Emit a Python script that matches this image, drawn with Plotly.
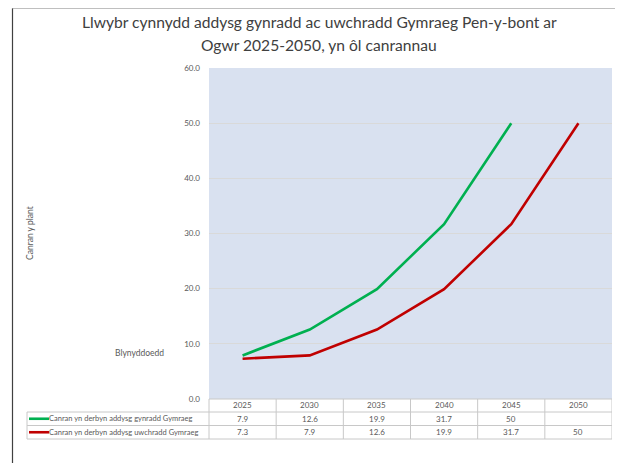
import plotly.graph_objects as go

years = ["2025", "2030", "2035", "2040", "2045", "2050"]
primary = [7.9, 12.6, 19.9, 31.7, 50, None]
secondary = [7.3, 7.9, 12.6, 19.9, 31.7, 50]
series_names = ["Canran yn derbyn addysg gynradd Gymraeg",
                "Canran yn derbyn addysg uwchradd Gymraeg"]
series_colors = ["#00b050", "#c00000"]
title_lines = ["Llwybr cynnydd addysg gynradd ac uwchradd Gymraeg Pen-y-bont ar",
               "Ogwr 2025-2050, yn ôl canrannau"]
y_title = "Canran y plant"
x_title = "Blynyddoedd"

# page body has an 8px margin; figure is sized to fill the rest of the window
OFF = 8
VW, VH = 623, 463
W, H = VW - OFF, VH - OFF
PL, PR, PT, PB = 209, 612, 68, 399  # plot box in window pixels
L, R, T, B = PL - OFF, VW - PR, PT - OFF, VH - PB
PW = PR - PL
PH = PB - PT
FONT = "Lato, Carlito, Liberation Sans, sans-serif"
TXT = "#595959"
GRID = "#d9d9d9"
TBL = "#c8c8c8"


def px(xp):
    return (xp - PL) / PW


def py(yp):
    return (PB - yp) / PH


idx = list(range(len(years)))
fig = go.Figure()
for vals, name, col in zip([primary, secondary], series_names, series_colors):
    fig.add_trace(go.Scatter(x=idx, y=vals, mode="lines", name=name,
                             line=dict(color=col, width=2.6), showlegend=False))

shapes = []
ann = []

# frame lines
shapes.append(dict(type="line", xref="paper", yref="paper", x0=px(12), x1=px(VW), y0=py(8.5), y1=py(8.5),
                   line=dict(color="#bfbfbf", width=1)))
shapes.append(dict(type="line", xref="paper", yref="paper", x0=px(12.5), x1=px(12.5), y0=py(8.5), y1=py(VH),
                   line=dict(color="#404040", width=1.2)))

# table
row_tops = [399, 412, 425.5, 439]
left_x = 27
shapes.append(dict(type="line", xref="paper", yref="paper", x0=0, x1=1, y0=py(row_tops[0]), y1=py(row_tops[0]),
                   line=dict(color=TBL, width=1)))
for yy in row_tops[1:]:
    shapes.append(dict(type="line", xref="paper", yref="paper", x0=px(left_x), x1=1, y0=py(yy), y1=py(yy),
                       line=dict(color=TBL, width=1)))
shapes.append(dict(type="line", xref="paper", yref="paper", x0=px(left_x), x1=px(left_x),
                   y0=py(row_tops[1]), y1=py(row_tops[3]), line=dict(color=TBL, width=1)))
shapes.append(dict(type="line", xref="paper", yref="paper", x0=0, x1=0,
                   y0=py(row_tops[0]), y1=py(row_tops[3]), line=dict(color=TBL, width=1)))
for i in idx:
    shapes.append(dict(type="line", xref="x", yref="paper", x0=i + 0.5, x1=i + 0.5,
                       y0=py(row_tops[0]), y1=py(row_tops[3]), line=dict(color=TBL, width=1)))

for i, yr in zip(idx, years):
    ann.append(dict(x=i, y=py((row_tops[0] + row_tops[1]) / 2), xref="x", yref="paper", text=yr,
                    xanchor="center", yanchor="middle",
                    showarrow=False, font=dict(size=8, color=TXT, family=FONT)))

for r, (vals, name, col) in enumerate(zip([primary, secondary], series_names, series_colors)):
    yc = (row_tops[r + 1] + row_tops[r + 2]) / 2
    shapes.append(dict(type="line", xref="paper", yref="paper", x0=px(29), x1=px(49), y0=py(yc), y1=py(yc),
                       line=dict(color=col, width=2.6)))
    ann.append(dict(x=px(49), y=py(yc), xref="paper", yref="paper", text=name, xanchor="left",
                    yanchor="middle", xshift=-2,
                    showarrow=False, font=dict(size=7.5, color=TXT, family=FONT)))
    for i, v in zip(idx, vals):
        if v is None:
            continue
        ann.append(dict(x=i, y=py(yc), xref="x", yref="paper", text=f"{v:g}",
                        xanchor="center", yanchor="middle",
                        showarrow=False, font=dict(size=8, color=TXT, family=FONT)))

# titles
for k, line in enumerate(title_lines):
    ann.append(dict(x=px(319), y=py(22 + 23 * k), xref="paper", yref="paper", text=line,
                    xanchor="center", yanchor="middle",
                    showarrow=False, font=dict(size=15.6, color="#404040", family=FONT)))
ann.append(dict(x=px(30), y=py(233), xref="paper", yref="paper", text=y_title, textangle=-90,
                xanchor="center", yanchor="middle",
                showarrow=False, font=dict(size=8.5, color=TXT, family=FONT)))
ann.append(dict(x=px(139), y=py(353), xref="paper", yref="paper", text=x_title,
                xanchor="center", yanchor="middle",
                showarrow=False, font=dict(size=8.5, color=TXT, family=FONT)))

fig.update_layout(
    width=W, height=H, margin=dict(l=L, r=R, t=T, b=B, autoexpand=False),
    paper_bgcolor="white", plot_bgcolor="#d9e1f0",
    shapes=shapes, annotations=ann,
    xaxis=dict(range=[-0.5, 5.5], showticklabels=False, showgrid=False, zeroline=False,
               showline=False, ticks="", automargin=False),
    yaxis=dict(range=[0, 60], dtick=10, tickformat=".1f", showgrid=True, gridcolor=GRID,
               gridwidth=1, zeroline=False, showline=False, ticks="", automargin=False,
               tickfont=dict(size=8, color=TXT, family=FONT), ticklabelstandoff=8),
)
fig.write_html("out.html")
